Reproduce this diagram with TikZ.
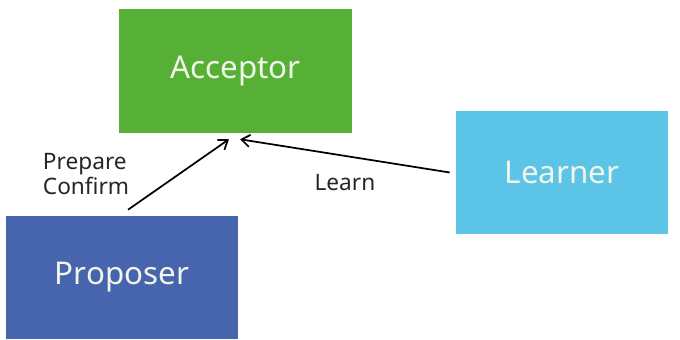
\documentclass[tikz,border=0pt]{standalone}
\usepackage{fontspec}
\setmainfont{Noto Sans}
\usetikzlibrary{arrows.meta,positioning}
\definecolor{acceptorgreen}{HTML}{56B036}
\definecolor{proposerblue}{HTML}{4764AE}
\definecolor{learnerblue}{HTML}{5CC5E7}
\definecolor{roletext}{HTML}{F2F5EA}
\begin{document}
\begin{tikzpicture}[
  x=0.75pt, y=0.75pt,
  role/.style={minimum width=174pt, minimum height=92.25pt, inner sep=0pt,
               text=roletext, font=\fontsize{23.5}{28}\selectfont},
  msg/.style={-{Straight Barb[length=2.2mm, width=3.2mm]}, line width=1.3pt},
  note/.style={font=\fontsize{17}{18.75}\selectfont, align=left, text=black!85}
]
\useasboundingbox (0,0) rectangle (680,339);
\node[role, fill=acceptorgreen, minimum width=174.75pt, minimum height=93pt] (acceptor) at (235.5,268) {Acceptor};
\node[role, fill=proposerblue] (proposer) at (122,61.5) {Proposer};
\node[role, fill=learnerblue, minimum width=159pt] (learner) at (562,166.5) {Learner};
\coordinate[below=4.5pt of acceptor.south] (hit);

\draw[msg] ([xshift=4.5pt, yshift=4.5pt]proposer.north) --
  node[note, left=33pt] {Prepare\\Confirm} ([xshift=-4.9pt]hit);
\draw[msg] ([xshift=-4.5pt]learner.west) --
  node[note, below=10pt] {Learn} ([xshift=3.4pt]hit);
\end{tikzpicture}
\end{document}
